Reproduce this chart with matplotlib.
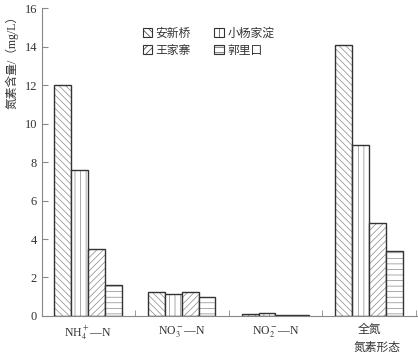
import numpy as np
import matplotlib
matplotlib.use('Agg')
import matplotlib.pyplot as plt
from matplotlib.patches import Patch

plt.rcParams['font.family'] = ['Liberation Serif', 'Noto Sans CJK SC']
plt.rcParams['mathtext.fontset'] = 'stix'
plt.rcParams['hatch.linewidth'] = 0.5

categories = [r'NH$_4^+$—N', r'NO$_3^-$—N', r'NO$_2^-$—N', '全氮']
sites = ['安新桥', '小杨家淀', '王家寨', '郭里口']
anxinqiao = [12.0, 1.25, 0.10, 14.1]
xiaoyangjiadian = [7.58, 1.12, 0.16, 8.88]
wangjiazhai = [3.46, 1.23, 0.07, 4.81]
guolikou = [1.6, 1.0, 0.06, 3.39]
series = [anxinqiao, xiaoyangjiadian, wangjiazhai, guolikou]
hatches = ['\\\\\\\\\\', '|||', '/////', '---']

fig = plt.figure(figsize=(4.18, 3.56), dpi=100)
ax = fig.add_axes([0.1005, 0.1124, 0.897, 0.865])

x = np.arange(len(categories))
w = 0.18
for i, vals in enumerate(series):
    pos = x + (i - 1.5) * w
    ax.bar(pos, vals, w, color='white', edgecolor='#888888', hatch=hatches[i], linewidth=0)
    ax.bar(pos, vals, w, color='none', edgecolor='#333333', linewidth=1.0)

ax.set_xlim(-0.49, 3.51)
ax.set_ylim(0, 16)
ax.set_yticks(np.arange(0, 17, 2))
ax.set_xticks(x)
ax.set_xticklabels(categories, fontsize=8.5)
ax.set_xticks(np.arange(0.5, 4, 1), minor=True)
ax.tick_params(axis='x', which='major', length=0, pad=6)
ax.tick_params(axis='x', which='minor', direction='in', length=4, color='#888888')
ax.tick_params(axis='y', direction='in', length=4, color='#888888', labelsize=9, labelcolor='#333333')
for lab in ax.get_xticklabels():
    lab.set_color('#333333')
for s in ['top', 'right']:
    ax.spines[s].set_visible(False)
for s in ['left', 'bottom']:
    ax.spines[s].set_color('#888888')

ax.set_ylabel('氮素含量/（mg/L）', fontsize=8.5, color='#333333', loc='top')
ax.yaxis.set_label_coords(-0.063, 0.995)
fig.text(377 / 418, 1 - 348 / 356, '氮素形态', ha='center', va='center', fontsize=8.5, color='#333333')

# legend fills by column, so reorder to get rows: 安新桥 小杨家淀 / 王家寨 郭里口
order = [0, 2, 1, 3]
handles = [Patch(facecolor='white', edgecolor='#333333', hatch=hatches[k], linewidth=0.8) for k in order]
ax.legend(handles, [sites[k] for k in order], ncol=2, loc='upper left', bbox_to_anchor=(0.24, 0.97),
          frameon=False, fontsize=8.5, handlelength=0.8, handleheight=0.8,
          handletextpad=0.3, columnspacing=2.0, labelspacing=0.4, labelcolor='#333333')

fig.savefig('out.png', dpi=100)
